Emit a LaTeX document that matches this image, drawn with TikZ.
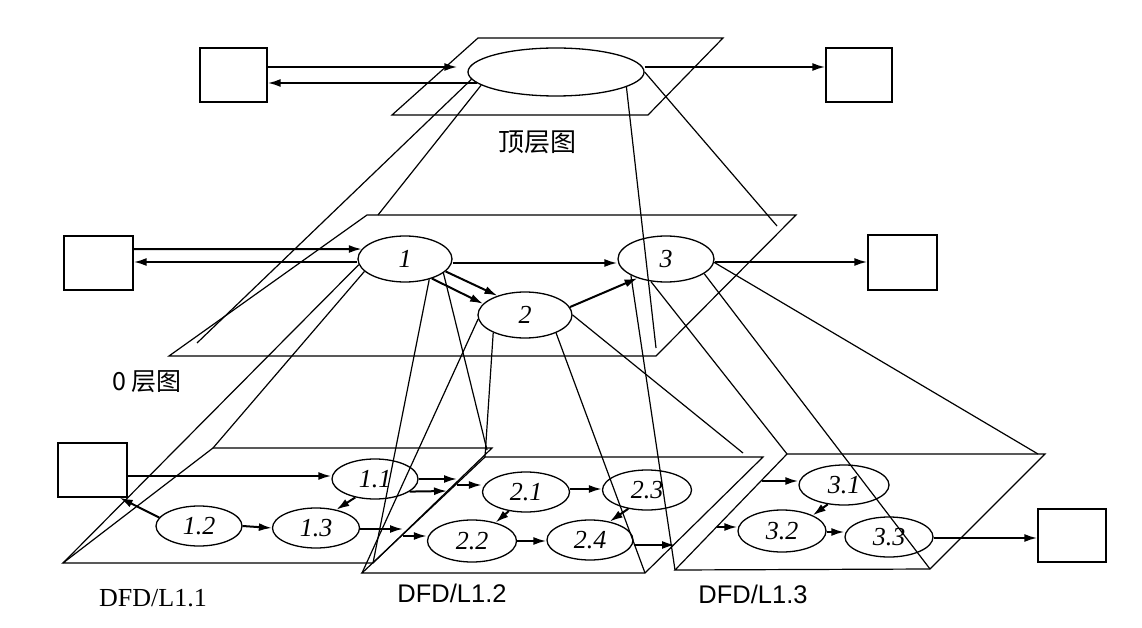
\documentclass[tikz,border=0pt]{standalone}
\usepackage{fontspec}
\setmainfont{Liberation Serif}
\newfontfamily\arialf{Liberation Sans}
\newfontfamily\cjk{Noto Sans CJK SC}
\usetikzlibrary{shapes.geometric,arrows.meta}
\tikzset{
  ext/.style={draw, line width=1.3pt, inner sep=0pt},
  proc/.style={draw, ellipse, line width=1.3pt, inner sep=0pt, font=\fontsize{26}{26}\selectfont\itshape},
  plane/.style={line width=1.2pt, line join=miter},
  proj/.style={line width=1.2pt},
  flow/.style={line width=2pt, -{Latex[length=13pt,width=8pt]}},
}
\begin{document}
\begin{tikzpicture}[x=1pt,y=-1pt]
\path[fill=white, use as bounding box] (0,0) rectangle (1142,628);

% ---------- top level ----------
\coordinate (p0a) at (478,38); \coordinate (p0b) at (723,38);
\coordinate (p0c) at (648,115); \coordinate (p0d) at (392,115);
\draw[plane] (p0a) -- (p0b) -- (p0c) -- (p0d) -- cycle;
\node[proc, minimum width=176pt, minimum height=48pt] (e0) at (556,72) {};
\node[ext, minimum width=67pt, minimum height=54pt] (tl) at (233.5,75) {};
\node[ext, minimum width=66pt, minimum height=54pt] (tr) at (859,75) {};
\draw[flow] ([yshift=8pt]tl.east) -- ([xshift=-10pt,yshift=5pt]e0.west);
\draw[flow] ([xshift=10pt,yshift=-11pt]e0.west) -- ([yshift=-8pt]tl.east);
\draw[flow] ([yshift=5pt]e0.east) -- ([yshift=8pt]tr.west);
\node[font=\cjk\fontsize{26}{26}\selectfont] (t0lab) at (537,142) {顶层图};

% ---------- level 0 ----------
\coordinate (p1a) at (367,215); \coordinate (p1b) at (796,215);
\coordinate (p1c) at (656,356); \coordinate (p1d) at (169,356);
\draw[plane] (p1a) -- (p1b) -- (p1c) -- (p1d) -- cycle;
\coordinate (m1) at (197,343); \coordinate (m2) at (378,215);
\coordinate (m3) at (656,348); \coordinate (m4) at (777,226);
\draw[proj] (e0.185) -- (m1);
\draw[proj] (e0.190) -- (m2);
\draw[proj] (e0.348) -- (m3);
\draw[proj] (e0.east) -- (m4);

\node[proc, minimum width=94pt, minimum height=46pt] (e1) at (405,259) {1};
\node[proc, minimum width=94pt, minimum height=46pt] (e2) at (525,315) {2};
\node[proc, minimum width=96pt, minimum height=46pt] (e3) at (666,259) {3};
\node[ext, minimum width=69pt, minimum height=54pt] (ml) at (98.5,263) {};
\node[ext, minimum width=69pt, minimum height=55pt] (mr) at (902.5,262.5) {};
\draw[flow] ([yshift=14pt]ml.east) -- (e1.167);
\draw[flow] ([yshift=-3pt]e1.west) -- ([yshift=1pt]ml.east);
\draw[flow] ([yshift=-4pt]e1.east) -- ([yshift=-4pt]e3.west);
\draw[flow] (e1.343) -- (e2.145);
\draw[flow] (e1.324) -- (e2.165);
\draw[flow] (e2.10) -- (e3.214);
\draw[flow] ([yshift=-3pt]e3.east) -- ([yshift=0.5pt]mr.west);
\node[font=\cjk\fontsize{25}{25}\selectfont] (m0lab) at (147,382) {0 层图};

% ---------- level 1 planes ----------
\coordinate (q1a) at (63,563);  \coordinate (q1b) at (373,563);
\coordinate (q1c) at (492,448); \coordinate (q1d) at (213,448);
\draw[plane] (q1a) -- (q1b) -- (q1c) -- (q1d) -- cycle;
\coordinate (q2a) at (362,573); \coordinate (q2b) at (645,573);
\coordinate (q2c) at (763,457); \coordinate (q2d) at (485,457);
\draw[plane] (q2a) -- (q2b) -- (q2c) -- (q2d) -- cycle;
\coordinate (q3a) at (675,570); \coordinate (q3b) at (930,569);
\coordinate (q3c) at (1045,454); \coordinate (q3d) at (787,454);
\draw[plane] (q3a) -- (q3b) -- (q3c) -- (q3d) -- cycle;

% projections of level-0 processes
\coordinate (q1t) at (487,450);
\coordinate (q2t) at (743,453);
\coordinate (q3t) at (1038,454);
\draw[proj] (e1.187) -- (q1a);
\draw[proj] (e1.197) -- (q1d);
\draw[proj] (e1.320) -- (q1b);
\draw[proj] (e1.340) -- (q1t);
\draw[proj] (e2.185) -- (q2a);
\draw[proj] (e2.209) -- (q2d);
\draw[proj] (e2.330) -- (q2b);
\draw[proj] (e2.east) -- (q2t);
\draw[proj] (e3.205) -- (q3a);
\draw[proj] (e3.236) -- (q3d);
\draw[proj] (e3.339) -- (q3b);
\draw[proj] (e3.356) -- (q3t);

% ---------- level 1 nodes ----------
\node[ext, minimum width=69pt, minimum height=54pt] (b1) at (92.5,470) {};
\node[proc, minimum width=86pt, minimum height=40pt] (e11) at (375,479) {1.1};
\node[proc, minimum width=86pt, minimum height=40pt] (e12) at (199,526) {1.2};
\node[proc, minimum width=87pt, minimum height=40pt] (e13) at (316,528) {1.3};
\node[proc, minimum width=87pt, minimum height=40pt] (e21) at (526,492) {2.1};
\node[proc, minimum width=89pt, minimum height=42pt] (e22) at (472,541) {2.2};
\node[proc, minimum width=89pt, minimum height=40pt] (e23) at (647,490) {2.3};
\node[proc, minimum width=86pt, minimum height=40pt] (e24) at (590,540) {2.4};
\node[proc, minimum width=90pt, minimum height=40pt] (e31) at (844,485) {3.1};
\node[proc, minimum width=88pt, minimum height=42pt] (e32) at (782,531) {3.2};
\node[proc, minimum width=88pt, minimum height=40pt] (e33) at (889,537) {3.3};
\node[ext, minimum width=68pt, minimum height=53pt] (b3) at (1072,535.5) {};

\coordinate (o1) at (457,479); \coordinate (o2) at (447,491);
\coordinate (i1) at (457,485); \coordinate (o3) at (403,529);
\coordinate (i2) at (403,536); \coordinate (o4) at (675,545);
\coordinate (i3) at (762,481); \coordinate (i4) at (717,527);

\draw[flow] ([yshift=-6pt]b1.east) -- ([yshift=3pt]e11.west);
\draw[flow] (e12.168) -- ([xshift=-8pt]b1.south east);
\draw[flow] (e12.east) -- (e13.west);
\draw[flow] (e11.223) -- (e13.42);
\draw[flow] (e11.east) -- (o1);
\draw[flow] (e11.340) -- (o2);
\draw[flow] (i1) -- ([yshift=7pt]e21.west);
\draw[flow] ([yshift=-1pt]e13.east) -- (o3);
\draw[flow] (i2) -- ([yshift=5pt]e22.west);
\draw[flow] ([yshift=3pt]e21.east) -- ([yshift=1pt]e23.west);
\draw[flow] (e21.228) -- (e22.38);
\draw[flow] (e22.east) -- ([yshift=-1pt]e24.west);
\draw[flow] (e23.225) -- (e24.43);
\draw[flow] ([yshift=-5pt]e24.east) -- (o4);
\draw[flow] (i3) -- ([yshift=4pt]e31.west);
\draw[flow] (i4) -- ([yshift=4pt]e32.west);
\draw[flow] (e31.230) -- (e32.27);
\draw[flow] ([yshift=-1pt]e32.east) -- ([yshift=5pt]e33.west);
\draw[flow] ([yshift=-1pt]e33.east) -- ([yshift=-2.5pt]b3.west);

\node[font=\fontsize{26}{26}\selectfont] (l11) at (153,598) {DFD/L1.1};
\node[font=\arialf\fontsize{25.5}{25.5}\selectfont] (l12) at (452,593) {DFD/L1.2};
\node[font=\arialf\fontsize{25.5}{25.5}\selectfont] (l13) at (753,594) {DFD/L1.3};
\end{tikzpicture}
\end{document}
